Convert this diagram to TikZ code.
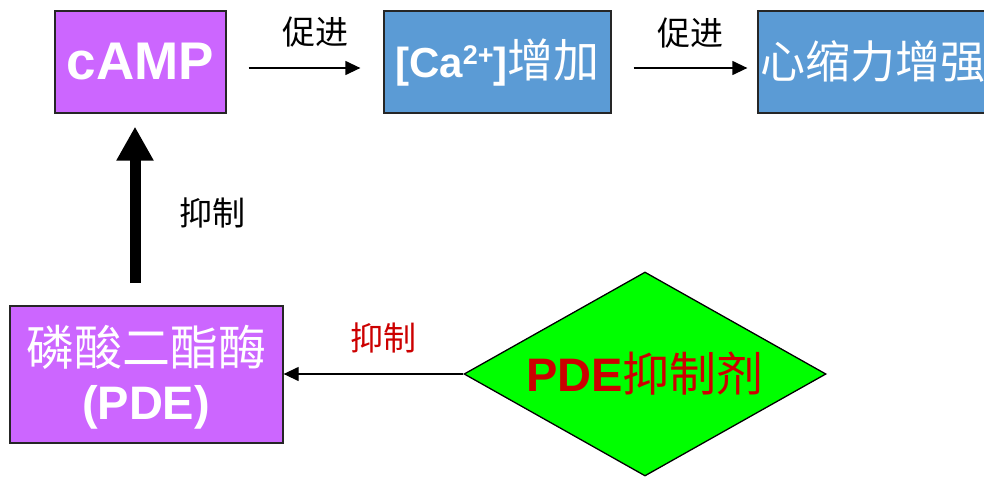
\documentclass[tikz,border=0pt]{standalone}
\usepackage{fontspec}
\setmainfont{Liberation Sans}
\newfontfamily\cjk{Noto Sans CJK SC}
\usetikzlibrary{arrows.meta,shapes.geometric,calc}
\definecolor{boxpurple}{HTML}{CC66FF}
\definecolor{boxblue}{HTML}{5B9BD5}
\definecolor{diagreen}{HTML}{00FF00}
\definecolor{textred}{HTML}{CC0000}
\tikzset{
  box/.style={draw=black!85, line width=1.3pt, inner sep=0pt, text=white, align=center},
  thinarrow/.style={draw=black, line width=1.3pt, -{Triangle[length=15pt,width=14pt]}},
  lbl/.style={inner sep=0pt, font=\cjk\fontsize{33}{33}\selectfont},
}
\begin{document}
\begin{tikzpicture}[x=1pt,y=-1pt]
\useasboundingbox (0,0) rectangle (984,477);
% boxes
\node[box, fill=boxpurple, minimum width=171pt, minimum height=102pt] (camp) at (140.5,62)
  {\fontsize{53}{53}\selectfont\bfseries cAMP};
\node[box, fill=boxblue, minimum width=227pt, minimum height=102pt] (ca) at (497.5,62)
  {\fontsize{42}{42}\selectfont\bfseries [Ca\raisebox{0.55ex}{\fontsize{27}{27}\selectfont 2+}]{\cjk\fontsize{46}{46}\selectfont\mdseries 增加}};
\node[box, fill=boxblue, minimum width=240pt, minimum height=102pt, text width=240pt] (heart) at (878,62)
  {\hspace*{-10pt}\cjk\fontsize{45}{45}\selectfont 心缩力增强};
\node[box, fill=boxpurple, minimum width=273pt, minimum height=137pt] (pde) at (146.5,374.5) {};
\node[inner sep=0pt, text=white, font=\cjk\fontsize{48}{48}\selectfont] (pdecn) at (146,347) {磷酸二酯酶};
\node[inner sep=0pt, text=white, font=\fontsize{47}{47}\selectfont\bfseries] (pdeen) at (146,407) {(PDE)};
\node[diamond, draw=black, line width=1.3pt, fill=diagreen, minimum width=362pt, minimum height=204pt, inner sep=0pt, aspect=1.77] (inh) at (645,374)
  {\textcolor{textred}{\fontsize{47}{47}\selectfont\bfseries PDE{\cjk\mdseries 抑制剂}}};
% arrows
\draw[thinarrow, shorten <=22pt, shorten >=23pt] ($(camp.east)+(0,6)$) -- ($(ca.west)+(0,6)$);
\draw[thinarrow, shorten <=22pt, shorten >=10pt] ($(ca.east)+(0,6)$) -- ($(heart.west)+(0,6)$);
\coordinate (up0) at (135,283);
\draw[line width=11pt, -{Triangle[length=34pt,width=35pt]}, shorten >=13pt] (up0) -- (up0 |- camp.south);
\draw[thinarrow] (inh.west) -- (inh.west -| pde.east);
% labels
\node[lbl] (l1) at (315,32) {促进};
\node[lbl] (l2) at (690,33) {促进};
\node[lbl] (l3) at (212,213) {抑制};
\node[lbl, text=textred] (l4) at (383,338) {抑制};
\end{tikzpicture}
\end{document}
